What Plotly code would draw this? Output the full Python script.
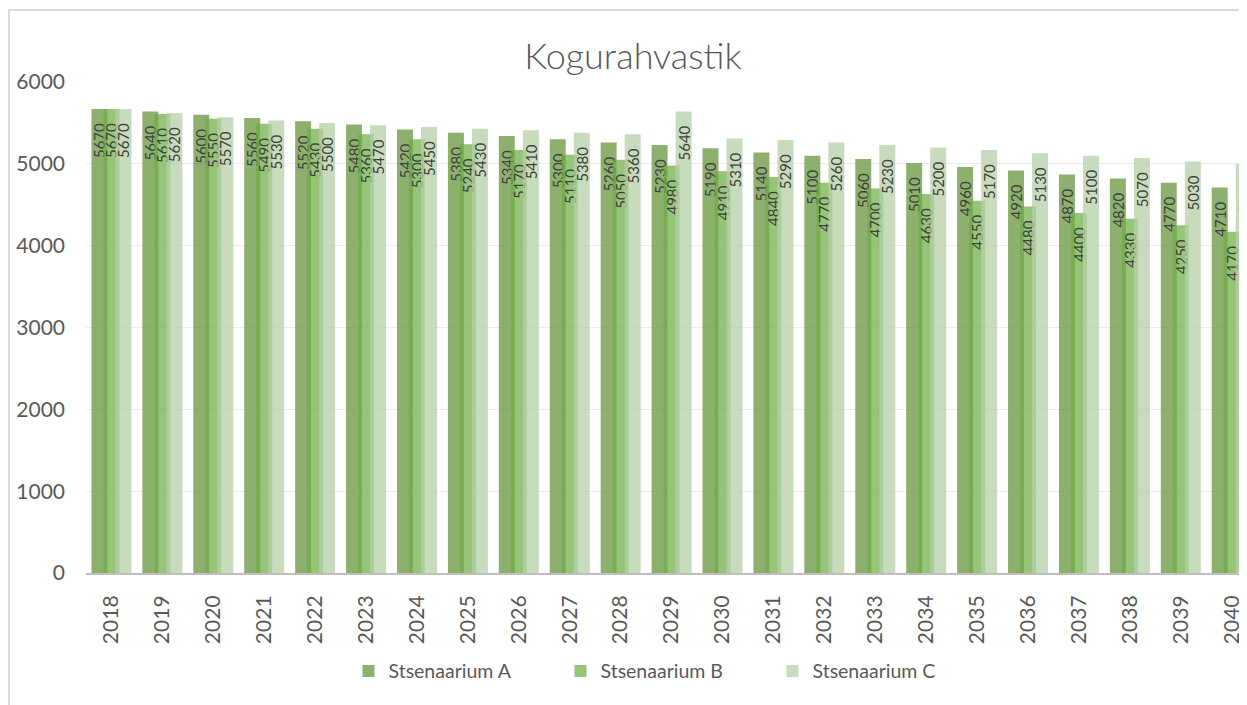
import plotly.graph_objects as go

years = [str(y) for y in range(2018, 2041)]
stsen_a = [5670, 5640, 5600, 5560, 5520, 5480, 5420, 5380, 5340, 5300, 5260, 5230,
           5190, 5140, 5100, 5060, 5010, 4960, 4920, 4870, 4820, 4770, 4710]
stsen_b = [5670, 5610, 5550, 5490, 5430, 5360, 5300, 5240, 5170, 5110, 5050, 4980,
           4910, 4840, 4770, 4700, 4630, 4550, 4480, 4400, 4330, 4250, 4170]
stsen_c = [5670, 5620, 5570, 5530, 5500, 5470, 5450, 5430, 5410, 5380, 5360, 5640,
           5310, 5290, 5260, 5230, 5200, 5170, 5130, 5100, 5070, 5030, 5000]
series_names = ["Stsenaarium A", "Stsenaarium B", "Stsenaarium C"]
y_ticks = [0, 1000, 2000, 3000, 4000, 5000, 6000]

FONT = "Lato"
colors = ["rgba(103,150,62,0.75)", "rgba(112,173,71,0.72)", "rgba(180,208,166,0.75)"]
offsets = [-0.393, -0.157, 0.079]
bar_w = 0.314

fig = go.Figure()
for name, vals, col, off in zip(series_names, [stsen_a, stsen_b, stsen_c], colors, offsets):
    fig.add_trace(go.Bar(
        x=years, y=vals, name=name,
        marker=dict(color=col, line=dict(width=0)),
        width=bar_w, offset=off,
        text=vals, texttemplate="%{y}\u2003",
        textposition="inside", insidetextanchor="end", textangle=-90,
        constraintext="none",
        textfont=dict(family=FONT, size=15, color="#404040"),
        cliponaxis=True,
    ))

# page body has an 8px margin: figure is sized so its plot area lands where the reference's does
fig.update_layout(
    width=1239, height=697,
    barmode="overlay",
    paper_bgcolor="white", plot_bgcolor="white",
    margin=dict(l=78, r=0, t=74, b=132),
    title=dict(text="Kogurahvastik", x=0.5044, xref="container", xanchor="center",
               y=0.9311, yref="container", yanchor="middle",
               font=dict(family=FONT, size=36, color="#595959", weight=300)),
    xaxis=dict(type="category", range=[-0.5, 22.3], tickangle=-90,
               tickfont=dict(family=FONT, size=21, color="#595959"),
               showline=True, linecolor="#bfbfbf", linewidth=2,
               ticks="", showgrid=False, ticklabelstandoff=12),
    yaxis=dict(range=[0, 6000], tickvals=y_ticks,
               tickfont=dict(family=FONT, size=21, color="#595959"),
               showgrid=True, gridcolor="#ececec", gridwidth=1,
               zeroline=False, showline=False, ticks="", ticklabelstandoff=20),
    legend=dict(orientation="h", x=0.5, xanchor="center", y=-0.2, yanchor="middle",
                font=dict(family=FONT, size=19.5, color="#595959"),
                itemwidth=30, entrywidth=167, entrywidthmode="pixels",
                traceorder="normal"),
    showlegend=True,
)

fig.add_shape(type="rect", xref="paper", yref="paper",
              x0=(9 - 86) / 1161, x1=1.05, y0=-0.3, y1=(573 - 10) / 491,
              line=dict(color="#d9d9d9", width=2), fillcolor="rgba(0,0,0,0)", layer="below")

fig.write_html("out.html")
